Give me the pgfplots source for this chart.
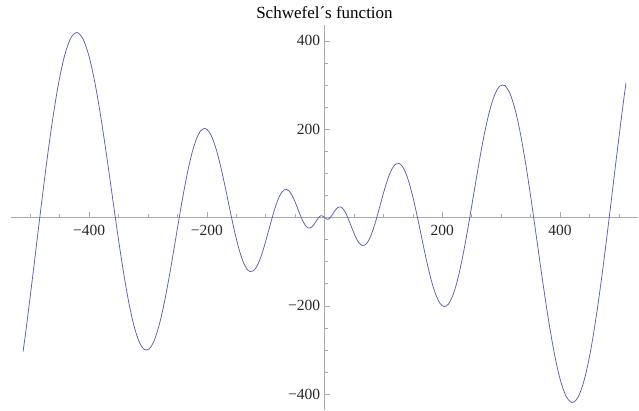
\documentclass[border=0pt]{standalone}
\usepackage{pgfplots}
\pgfplotsset{compat=1.18}
\usepackage{pgfplotstable}
\usepackage{fontspec}
\setmainfont{Liberation Serif}
\definecolor{curve}{RGB}{88,98,175}
\definecolor{axgray}{RGB}{170,170,170}
\definecolor{lblgray}{RGB}{40,40,40}
\pgfplotstableread{
x y
-512 -304.0
-506.25 -246.65
-495.0625 -126.74
-484 -4.31
-473.0625 112.97
-462.25 218.00
-451.5625 304.90
-441 368.94
-430.5625 407.36
-420.25 418.91
-410.0625 404.12
-400 365.2
-390.0625 305.65
-380.25 230.24
-370.5625 144.45
-361 54.11
-351.5625 -34.94
-342.25 -117.22
-333.0625 -187.95
-324 -243.32
-315.0625 -280.72
-306.25 -298.77
-297.5625 -297.44
-289 -277.84
-280.5625 -242.24
-272.25 -193.81
-264.0625 -136.20
-256 -73.70
-248.0625 -10.42
-240.25 49.61
-232.5625 102.84
-225 146.32
-217.5625 177.97
-210.25 196.56
-203.0625 201.78
-196 194.16
-189.0625 175.07
-182.25 146.49
-175.5625 110.89
-169 71.01
-162.5625 29.68
-156.25 -10.36
-150.0625 -46.68
-144 -77.27
-138.0625 -100.61
-132.25 -115.78
-126.5625 -122.50
-121 -121.0
-115.5625 -112.10
-110.25 -96.99
-105.0625 -77.18
-100 -54.40
-95.0625 -30.37
-90.25 -6.79
-85.5625 14.88
-81 33.38
-76.5625 47.83
-72.25 57.69
-68.0625 62.79
-64 63.32
-60.0625 59.74
-56.25 52.76
-52.5625 43.26
-49 32.19
-45.5625 20.50
-42.25 9.09
-39.0625 -1.30
-36 -10.06
-33.0625 -16.81
-30.25 -21.34
-27.5625 -23.67
-25 -23.97
-22.5625 -22.55
-20.25 -19.79
-18.0625 -16.17
-16 -12.11
-14.0625 -8.04
-12.25 -4.30
-10.5625 -1.14
-9 1.27
-7.5625 2.89
-6.25 3.74
-5.0625 3.94
-4 3.64
-3.0625 3.01
-2.25 2.24
-1.5625 1.48
-1 0.84
-0.5625 0.38
-0.25 0.12
-0.0625 0.02
0 0
0.0625 -0.02
0.25 -0.12
0.5625 -0.38
1 -0.84
1.5625 -1.48
2.25 -2.24
3.0625 -3.01
4 -3.64
5.0625 -3.94
6.25 -3.74
7.5625 -2.89
9 -1.27
10.5625 1.14
12.25 4.30
14.0625 8.04
16 12.11
18.0625 16.17
20.25 19.79
22.5625 22.55
25 23.97
27.5625 23.67
30.25 21.34
33.0625 16.81
36 10.06
39.0625 1.30
42.25 -9.09
45.5625 -20.50
49 -32.19
52.5625 -43.26
56.25 -52.76
60.0625 -59.74
64 -63.32
68.0625 -62.79
72.25 -57.69
76.5625 -47.83
81 -33.38
85.5625 -14.88
90.25 6.79
95.0625 30.37
100 54.40
105.0625 77.18
110.25 96.99
115.5625 112.10
121 121.0
126.5625 122.50
132.25 115.78
138.0625 100.61
144 77.27
150.0625 46.68
156.25 10.36
162.5625 -29.68
169 -71.01
175.5625 -110.89
182.25 -146.49
189.0625 -175.07
196 -194.16
203.0625 -201.78
210.25 -196.56
217.5625 -177.97
225 -146.32
232.5625 -102.84
240.25 -49.61
248.0625 10.42
256 73.70
264.0625 136.20
272.25 193.81
280.5625 242.24
289 277.84
297.5625 297.44
306.25 298.77
315.0625 280.72
324 243.32
333.0625 187.95
342.25 117.22
351.5625 34.94
361 -54.11
370.5625 -144.45
380.25 -230.24
390.0625 -305.65
400 -365.2
410.0625 -404.12
420.25 -418.91
430.5625 -407.36
441 -368.94
451.5625 -304.90
462.25 -218.00
473.0625 -112.97
484 4.31
495.0625 126.74
506.25 246.65
512 304.0
}\schwefel
\begin{document}
\begin{tikzpicture}
\fontsize{15.5}{18}\selectfont
\path[use as bounding box] (-11pt,-1pt) rectangle (628pt,410pt);
\begin{axis}[
  at={(0pt,0pt)}, anchor=south west,
  scale only axis,
  width=627pt, height=385pt,
  xmin=-532.5, xmax=532.5,
  ymin=-436, ymax=436,
  axis lines=middle,
  axis line style={axgray, line width=0.6pt, -},
  xtick={-400,-200,200,400},
  xticklabels={−400,−200,200,400},
  ytick={-400,-200,200,400},
  yticklabels={−400,−200,200,400},
  minor xtick={-500,-450,-350,-300,-250,-150,-100,-50,50,100,150,250,300,350,450,500},
  minor ytick={-350,-300,-250,-150,-100,-50,50,100,150,250,300,350},
  tick align=inside,
  major tick length=5pt,
  minor tick length=3pt,
  tick style={axgray, line width=0.5pt},
  ticklabel style={font=\fontsize{15.5}{18}\selectfont, text=lblgray},
  xticklabel style={yshift=-2pt},
  yticklabel style={xshift=1pt},
  title={Schwefel´s function},
  title style={font=\fontsize{17}{20}\selectfont, at={(axis description cs:0.5,1)}, anchor=south, yshift=-5pt},
  clip=false,
]
\addplot[curve, line width=0.75pt, smooth, tension=0.5] table[x=x,y=y] {\schwefel};
\end{axis}
\end{tikzpicture}
\end{document}
